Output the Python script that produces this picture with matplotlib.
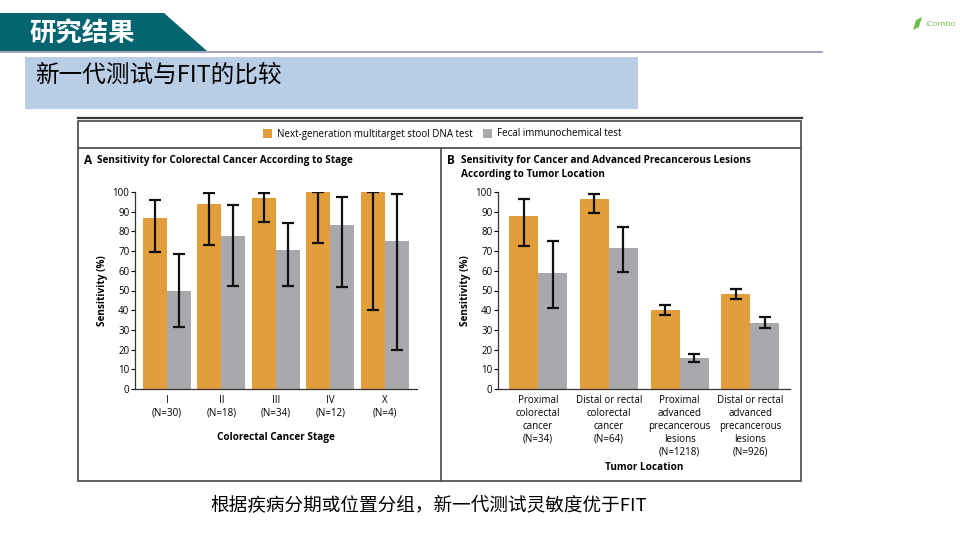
import matplotlib
matplotlib.use("Agg")
import matplotlib.pyplot as plt
from matplotlib.patches import Polygon, Rectangle
import numpy as np

plt.rcParams['font.family'] = ['Open Sans', 'Noto Sans CJK SC', 'DejaVu Sans']

# Data
stage_labels = ["I\n(N=30)", "II\n(N=18)", "III\n(N=34)", "IV\n(N=12)", "X\n(N=4)"]
stage_dna = [87, 94, 97, 100, 100]
stage_dna_lo = [69.5, 73, 85, 74, 40]
stage_dna_hi = [96, 99.5, 99.5, 100, 100]
stage_fit = [50, 77.5, 70.5, 83, 75]
stage_fit_lo = [31.5, 52.5, 52.5, 52, 20]
stage_fit_hi = [68.5, 93.5, 84.5, 97.5, 99]

loc_labels = ["Proximal\ncolorectal\ncancer\n(N=34)",
              "Distal or rectal\ncolorectal\ncancer\n(N=64)",
              "Proximal\nadvanced\nprecancerous\nlesions\n(N=1218)",
              "Distal or rectal\nadvanced\nprecancerous\nlesions\n(N=926)"]
loc_dna = [88, 96.7, 40, 48.3]
loc_dna_lo = [72.5, 89.5, 37.5, 45.5]
loc_dna_hi = [96.5, 99, 42.5, 51]
loc_fit = [58.8, 71.5, 15.5, 33.7]
loc_fit_lo = [41, 59.5, 13.5, 31]
loc_fit_hi = [75, 82, 18, 36.5]

ORANGE = "#E39E3C"
GRAY = "#A8A9AD"
TEAL = "#046571"

W, H = 960, 540
fig = plt.figure(figsize=(9.6, 5.4), dpi=100)


def px(x0, y0, x1, y1):
    return [x0 / W, 1 - y1 / H, (x1 - x0) / W, (y1 - y0) / H]


# background layer in pixel coords
bg = fig.add_axes([0, 0, 1, 1])
bg.set_xlim(0, W)
bg.set_ylim(H, 0)
bg.axis("off")

bg.add_patch(Polygon([[0, 13], [164, 13], [207, 51], [0, 51]], closed=True,
                     facecolor=TEAL, edgecolor="none"))
bg.plot([0, 822], [51.5, 51.5], color="#9a8fb5", lw=1.2)
bg.text(29, 34, "研究结果", color="white", fontsize=19, fontweight="bold",
        va="center", ha="left", family=["Noto Sans CJK SC"])

# logo
bg.add_patch(Polygon([[913, 30], [916, 20], [922, 17], [919, 27]], closed=True,
                     facecolor="#6cc04a", edgecolor="none"))
bg.text(925, 24, "iCombo", color="#6cc04a", fontsize=6, va="center", ha="left")

bg.add_patch(Rectangle((25, 57), 613, 52, facecolor="#b9cde5", edgecolor="none"))
bg.text(35, 75, "新一代测试与FIT的比较", color="black", fontsize=17,
        va="center", ha="left", family=["Noto Sans CJK SC"])

# figure frame
bg.plot([78, 802], [117.5, 117.5], color="#333333", lw=1.6)
bg.add_patch(Rectangle((78, 121), 723, 360, facecolor="none", edgecolor="#555555", lw=1.3))
bg.plot([78, 801], [148, 148], color="#555555", lw=1.3)
bg.plot([441, 441], [148, 481], color="#555555", lw=1.3)

# legend
bg.add_patch(Rectangle((263, 129), 9, 9, facecolor=ORANGE, edgecolor="none"))
bg.text(277, 134, "Next-generation multitarget stool DNA test", fontsize=7, va="center")
bg.add_patch(Rectangle((483, 129), 9, 9, facecolor=GRAY, edgecolor="none"))
bg.text(497, 134, "Fecal immunochemical test", fontsize=7, va="center")

# panel titles
bg.text(84, 161, "A", fontsize=8.5, fontweight="bold", va="center")
bg.text(97, 161, "Sensitivity for Colorectal Cancer According to Stage",
        fontsize=7.2, fontweight="bold", va="center")
bg.text(447, 161, "B", fontsize=8.5, fontweight="bold", va="center")
bg.text(461, 161, "Sensitivity for Cancer and Advanced Precancerous Lesions",
        fontsize=7.2, fontweight="bold", va="center")
bg.text(461, 174, "According to Tumor Location",
        fontsize=7.2, fontweight="bold", va="center")

bg.text(429, 506, "根据疾病分期或位置分组，新一代测试灵敏度优于FIT", fontsize=13.4,
        ha="center", va="center", family=["Noto Sans CJK SC"])


def draw_panel(rect, labels, dna, dna_lo, dna_hi, fit, fit_lo, fit_hi,
               bw, xlim, xlabel, xlabel_pad):
    ax = fig.add_axes(rect)
    x = np.arange(len(labels))
    dna = np.array(dna)
    fit = np.array(fit)
    ax.bar(x - bw / 2, dna, bw, color=ORANGE, zorder=2)
    ax.bar(x + bw / 2, fit, bw, color=GRAY, zorder=2)
    ax.errorbar(x - bw / 2, dna, yerr=[dna - np.array(dna_lo), np.array(dna_hi) - dna],
                fmt="none", ecolor="#111111", elinewidth=1.6, capsize=4, capthick=1.6, zorder=3)
    ax.errorbar(x + bw / 2, fit, yerr=[fit - np.array(fit_lo), np.array(fit_hi) - fit],
                fmt="none", ecolor="#111111", elinewidth=1.6, capsize=4, capthick=1.6, zorder=3)
    ax.set_xlim(*xlim)
    ax.set_ylim(0, 100)
    ax.set_yticks(range(0, 101, 10))
    ax.set_xticks(x)
    ax.set_xticklabels(labels, fontsize=7, linespacing=1.25)
    ax.tick_params(axis="x", length=0, pad=4)
    ax.tick_params(axis="y", length=3, width=0.8, labelsize=7, pad=1)
    for s in ["top", "right"]:
        ax.spines[s].set_visible(False)
    for s in ["left", "bottom"]:
        ax.spines[s].set_linewidth(0.9)
        ax.spines[s].set_color("#333333")
    ax.set_ylabel("Sensitivity (%)", fontsize=7.2, fontweight="bold", labelpad=3)
    ax.set_xlabel(xlabel, fontsize=7.2, fontweight="bold", labelpad=xlabel_pad)
    ax.patch.set_alpha(0)
    return ax


draw_panel(px(135, 192, 417, 389), stage_labels, stage_dna, stage_dna_lo, stage_dna_hi,
           stage_fit, stage_fit_lo, stage_fit_hi, 0.44, (-0.587, 4.59),
           "Colorectal Cancer Stage", 10)
draw_panel(px(498, 192, 790, 389), loc_labels, loc_dna, loc_dna_lo, loc_dna_hi,
           loc_fit, loc_fit_lo, loc_fit_hi, 0.41, (-0.566, 3.56),
           "Tumor Location", 3)

fig.savefig("out.png", dpi=100)
